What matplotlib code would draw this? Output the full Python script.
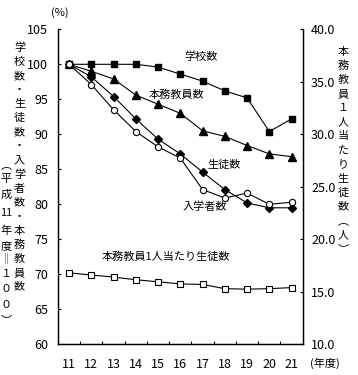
import numpy as np
import matplotlib
matplotlib.use("Agg")
import matplotlib.pyplot as plt
from matplotlib.ticker import FixedLocator, FormatStrFormatter

plt.rcParams['font.family'] = ['Noto Sans CJK JP', 'DejaVu Sans']

years = ["11", "12", "13", "14", "15", "16", "17", "18", "19", "20", "21"]
schools = [100, 100, 100, 100, 99.6, 98.6, 97.6, 96.2, 95.2, 90.4, 92.2]
teachers = [100, 99.0, 97.9, 95.6, 94.3, 93.0, 90.5, 89.7, 88.4, 87.2, 86.8]
students = [100, 98.2, 95.4, 92.2, 89.3, 87.2, 84.6, 82.1, 80.2, 79.5, 79.5]
entrants = [100, 97.1, 93.5, 90.4, 88.2, 86.6, 82.1, 80.9, 81.6, 80.0, 80.3]
per_teacher = [16.8, 16.6, 16.4, 16.15, 15.95, 15.75, 15.7, 15.3, 15.25, 15.3, 15.4]

W, H = 358, 375
fig = plt.figure(figsize=(W / 100, H / 100), dpi=100)
ax = fig.add_axes([58 / W, (H - 344.3) / H, (302.7 - 58) / W, (344.3 - 29.3) / H])
ax2 = ax.twinx()

x = np.arange(len(years))
lw = 0.8
ax.plot(x, schools, color='black', lw=lw, marker='s', ms=5, mfc='black', mec='black')
ax.plot(x, teachers, color='black', lw=lw, marker='^', ms=5.5, mfc='black', mec='black')
ax.plot(x, students, color='black', lw=lw, marker='D', ms=3.6, mfc='black', mec='black')
ax.plot(x, entrants, color='black', lw=lw, marker='o', ms=4.5, mfc='white', mec='black', mew=0.8)
ax2.plot(x, per_teacher, color='black', lw=lw, marker='s', ms=4.5, mfc='white', mec='black', mew=0.8)

ax.set_xlim(-0.5, len(years) - 0.5)
ax.set_ylim(60, 105)
ax2.set_ylim(10, 40)

ax.set_yticks(np.arange(60, 106, 5))
ax2.set_yticks(np.arange(10, 41, 5))
ax2.yaxis.set_major_formatter(FormatStrFormatter('%.1f'))

ax.set_xticks(x)
ax.set_xticklabels(years)
ax.xaxis.set_minor_locator(FixedLocator(np.arange(-0.5, len(years), 1.0)))
ax.tick_params(axis='x', which='major', length=0, pad=10, labelsize=9)
ax.tick_params(axis='x', which='minor', direction='in', length=2.5, width=0.8)
ax.tick_params(axis='y', direction='in', length=2.5, width=0.8, pad=7, labelsize=9)
ax2.tick_params(axis='y', direction='in', length=2.5, width=0.8, pad=6, labelsize=9)

for a in (ax, ax2):
    a.spines['top'].set_visible(False)
    for s in ('left', 'right', 'bottom'):
        a.spines[s].set_linewidth(0.9)
ax.patch.set_visible(False)

fs = 8
# in-plot labels (pixel positions converted to figure coords)
def ftext(px, py, s, **kw):
    fig.text(px / W, 1 - py / H, s, ha='center', va='center', fontsize=kw.pop('fontsize', fs), **kw)

ftext(201, 57, "学校数")
ftext(176, 95, "本務教員数")
ftext(224, 165, "生徒数")
ftext(205, 207, "入学者数")
ftext(166, 257, "本務教員1人当たり生徒数")
ftext(60, 13, "(%)")
ftext(325, 363, "(年度)")

# vertical axis titles
col2 = list("学校数・生徒数・入学者数・本務教員数")
for i, ch in enumerate(col2):
    ftext(19.5, 48 + i * 14.05, ch)

col1 = ["︵", "平", "成", "11", "年", "度", "‖", "１", "０", "０", "︶"]
col1_y = [165, 179, 195, 213, 231, 246, 260, 274, 289, 305, 320]
for ch, yy in zip(col1, col1_y):
    ftext(6, yy, ch)

right = ["本", "務", "教", "員", "１", "人", "当", "た", "り", "生", "徒", "数", "︵", "人", "︶"]
for i, ch in enumerate(right):
    ftext(343, 51.7 + i * 14.1, ch)

fig.savefig("out.png", dpi=100)
